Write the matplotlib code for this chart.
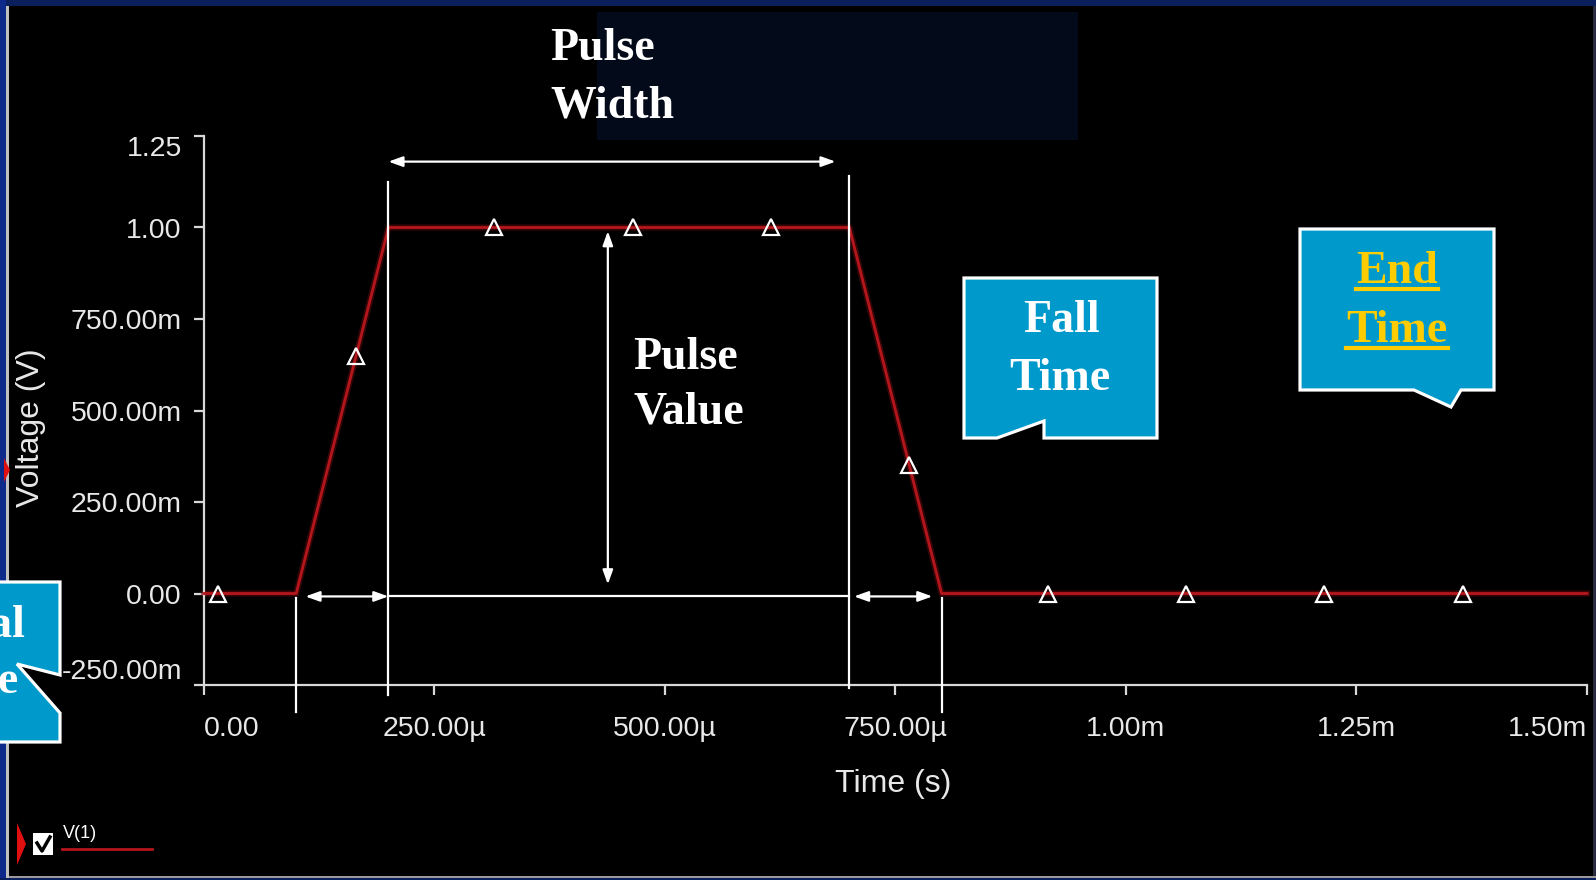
import matplotlib
matplotlib.use('Agg')
import matplotlib.pyplot as plt
from matplotlib.patches import Polygon, Rectangle, FancyArrowPatch
from matplotlib.lines import Line2D

# ---------------- data ----------------
time_s = [0.0, 100e-6, 200e-6, 700e-6, 800e-6, 1.5e-3]
voltage_v = [0.0, 0.0, 1.0, 1.0, 0.0, 0.0]
marker_time_s = [15e-6, 165e-6, 315e-6, 465e-6, 615e-6, 765e-6, 915e-6, 1065e-6, 1215e-6, 1365e-6]
marker_voltage_v = [0.0, 0.65, 1.0, 1.0, 1.0, 0.35, 0.0, 0.0, 0.0, 0.0]
x_ticks = [0.0, 250e-6, 500e-6, 750e-6, 1.0e-3, 1.25e-3, 1.5e-3]
x_tick_labels = ['0.00', '250.00µ', '500.00µ', '750.00µ', '1.00m', '1.25m', '1.50m']
y_ticks = [-0.25, 0.0, 0.25, 0.5, 0.75, 1.0, 1.25]
y_tick_labels = ['-250.00m', '0.00', '250.00m', '500.00m', '750.00m', '1.00', '1.25']
delay_s = 100e-6
rise_s = 100e-6
width_s = 500e-6
fall_s = 100e-6
pulse_value_v = 1.0
series_name = 'V(1)'
x_label = 'Time (s)'
y_label = 'Voltage (V)'

# ---------------- figure ----------------
W, H = 1596, 880
fig = plt.figure(figsize=(W / 100, H / 100), dpi=100, facecolor='black')

SANS = ['Liberation Sans', 'DejaVu Sans']
SERIF = ['Liberation Serif', 'DejaVu Serif']
GREY = '#d8d8d8'
TRACE = '#b5161c'

ax = fig.add_axes([204 / W, 1 - 685 / H, 1383 / W, 549 / H])
ax.set_facecolor('black')
ax.set_xlim(x_ticks[0], x_ticks[-1])
ax.set_ylim(y_ticks[0], y_ticks[-1])
for s in ['top', 'right']:
    ax.spines[s].set_visible(False)
for s in ['left', 'bottom']:
    ax.spines[s].set_color(GREY)
    ax.spines[s].set_linewidth(1.6)

ax.set_xticks(x_ticks)
ax.set_xticklabels(x_tick_labels, family=SANS, fontsize=20.5, color='#e8e8e8')
ax.set_yticks(y_ticks)
ax.set_yticklabels(y_tick_labels, family=SANS, fontsize=20.5, color='#e8e8e8')
ax.tick_params(axis='both', direction='out', length=7, width=1.6, color=GREY)
ax.tick_params(axis='x', pad=15)
ax.tick_params(axis='y', pad=9)
xl = ax.get_xticklabels()
xl[0].set_ha('left')
xl[-1].set_ha('right')
yl = ax.get_yticklabels()
yl[0].set_va('bottom')
yl[-1].set_va('top')

ax.set_xlabel(x_label, family=SANS, fontsize=23, color='#e8e8e8', va='center')
ax.xaxis.set_label_coords(0.4986, (685 - 784) / 549)
ax.set_ylabel(y_label, family=SANS, fontsize=23, color='#e8e8e8', va='center')
ax.yaxis.set_label_coords((31 - 204) / 1383, (685 - 428) / 549)

# waveform and markers
ax.plot(time_s, voltage_v, color='#5a0a0c', lw=4.5, alpha=0.6, zorder=2, clip_on=False)
ax.plot(time_s, voltage_v, color=TRACE, lw=2.0, zorder=3, clip_on=False)
ax.plot(marker_time_s, marker_voltage_v, linestyle='none', marker='^', ms=11,
        mfc='none', mec='white', mew=1.6, zorder=4, clip_on=False)

# annotation lines / arrows (data coordinates)
t_start = delay_s
t_top = delay_s + rise_s
t_end_top = t_top + width_s
t_end = t_end_top + fall_s
lk = dict(color='white', lw=1.6, clip_on=False, zorder=5)
ax.plot([t_start, t_start], [-0.011, -0.323], **lk)
ax.plot([t_top, t_top], [1.123, -0.277], **lk)
ax.plot([t_end_top, t_end_top], [1.14, -0.258], **lk)
ax.plot([t_end, t_end], [-0.011, -0.323], **lk)
ax.plot([t_top, t_end_top], [-0.008, -0.008], **lk)


def darrow(p0, p1):
    a = FancyArrowPatch(p0, p1, arrowstyle='<|-|>,head_length=0.5,head_width=0.18',
                        mutation_scale=17, color='white', lw=1.6, shrinkA=0, shrinkB=0,
                        transform=ax.transData, clip_on=False, zorder=6)
    ax.add_patch(a)


darrow((t_top, 1.18), (685e-6, 1.18))
darrow((110e-6, -0.008), (t_top, -0.008))
darrow((705e-6, -0.008), (790e-6, -0.008))
darrow((438e-6, 0.025), (438e-6, 0.99 * pulse_value_v))

# ---------------- overlay in pixel coordinates ----------------
ov = fig.add_axes([0, 0, 1, 1], zorder=10)
ov.set_xlim(0, W)
ov.set_ylim(H, 0)
ov.axis('off')
ov.patch.set_alpha(0)

# frame decorations
ov.add_patch(Rectangle((0, 0), W, 6, color='#0a1f5c', lw=0))
ov.add_patch(Rectangle((0, 0), 6, H, color='#0d2a8a', lw=0))
ov.add_patch(Rectangle((6, 6), 3, H - 8, color='#c0c0c0', lw=0))
ov.add_patch(Rectangle((1593, 6), 3, H, color='#2a2a40', lw=0))
ov.add_patch(Rectangle((9, 876), W, 2, color='#9a9a9a', lw=0))
ov.add_patch(Rectangle((0, 878), W, 2, color='#0a1f5c', lw=0))
ov.add_patch(Polygon([(4, 458), (10, 470), (4, 482)], closed=True, color='#e01010', lw=0))

# dark box at top
ov.add_patch(Rectangle((597, 12), 481, 128, color='#030a1a', lw=0))

serif_kw = dict(family=SERIF, weight='bold', fontsize=33)
ov.text(550, 60, 'Pulse', color='white', ha='left', va='baseline', **serif_kw)
ov.text(550, 117, 'Width', color='white', ha='left', va='baseline', **serif_kw)
ov.text(633, 369, 'Pulse', color='white', ha='left', va='baseline', **serif_kw)
ov.text(633, 423, 'Value', color='white', ha='left', va='baseline', **serif_kw)

# callouts
CALL = '#0099cc'
callouts = [
    [(-10, 582), (60, 582), (60, 675), (17, 664), (60, 713), (60, 742), (-10, 742)],
    [(964, 278), (1157, 278), (1157, 438), (1044, 438), (1044, 421), (997, 438), (964, 438)],
    [(1300, 229), (1494, 229), (1494, 390), (1461, 390), (1451, 407), (1414, 390), (1300, 390)],
]
for pts in callouts:
    ov.add_patch(Polygon(pts, closed=True, facecolor=CALL, edgecolor='white', lw=2.3,
                         joinstyle='miter', clip_on=False))

ov.text(25, 637, 'Initial', color='white', ha='right', va='baseline', **serif_kw)
ov.text(18, 693, 'Time', color='white', ha='right', va='baseline', **serif_kw)
ov.text(1061, 332, 'Fall', color='white', ha='center', va='baseline', **serif_kw)
ov.text(1060, 390, 'Time', color='white', ha='center', va='baseline', **serif_kw)
GOLD = '#ffcc00'
t_end_txt = ov.text(1397, 283, 'End', color=GOLD, ha='center', va='baseline', **serif_kw)
t_time_txt = ov.text(1397, 342, 'Time', color=GOLD, ha='center', va='baseline', **serif_kw)

# legend
ov.add_patch(Polygon([(17, 823), (26, 844), (17, 865)], closed=True, color='#e01010', lw=0))
ov.add_patch(Rectangle((33, 833), 20, 22, color='white', lw=0))
ov.add_line(Line2D([37, 42, 50], [843, 851, 837], color='black', lw=2.5))
ov.text(63, 838, series_name, color='white', family=SANS, fontsize=13, ha='left', va='baseline')
ov.add_line(Line2D([62, 152], [849, 849], color=TRACE, lw=2))

# underline the gold text
fig.canvas.draw()
r = fig.canvas.get_renderer()
inv = ov.transData.inverted()
for txt, base in [(t_end_txt, 283), (t_time_txt, 342)]:
    bb = txt.get_window_extent(renderer=r)
    x0, _ = inv.transform((bb.x0, bb.y0))
    x1, _ = inv.transform((bb.x1, bb.y0))
    ov.add_line(Line2D([x0, x1], [base + 6, base + 6], color=GOLD, lw=3))

fig.savefig('out.png', dpi=100, facecolor='black')
